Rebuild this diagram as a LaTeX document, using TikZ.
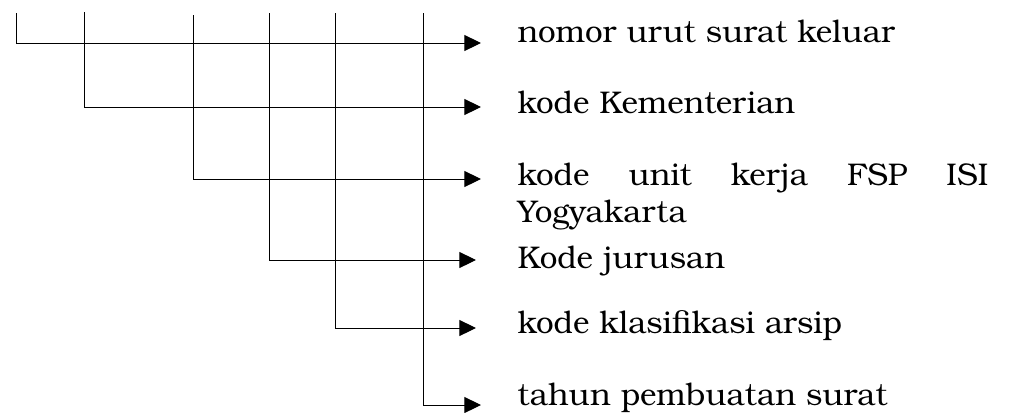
\documentclass[tikz,border=0pt]{standalone}
\usepackage{fontspec}
\setmainfont{TeX Gyre Bonum}
\usetikzlibrary{arrows.meta}
\begin{document}
\begin{tikzpicture}[x=0.75pt,y=-0.75pt,line width=0.75pt,
  conn/.style={draw,-{Triangle[length=12.5pt,width=12pt]}},
  lbl/.style={anchor=base west,inner sep=0pt,font=\fontsize{23.5}{28}\selectfont}]
\useasboundingbox (0,0) rectangle (1010,412);
% labels
\node[lbl] (t1) at (517,42) {nomor urut surat keluar};
\node[lbl] (t2) at (517,113) {kode Kementerian};
\node[lbl] (t3) at (517,185) {\makebox[353.25pt][s]{kode unit kerja FSP ISI}};
\node[lbl] (t3b) at (517,222) {Yogyakarta};
\node[lbl] (t4) at (517,268) {Kode jurusan};
\node[lbl] (t5) at (517,333) {kode klasifikasi arsip};
\node[lbl] (t6) at (517,405) {tahun pembuatan surat};
% vertical tops
\coordinate (v1) at (16,13);
\coordinate (v2) at (84,12);
\coordinate (v3) at (193,15);
\coordinate (v4) at (269,13);
\coordinate (v5) at (335,13);
\coordinate (v6) at (423,13);
% arrow ends
\coordinate (a1) at (481,43);
\coordinate (a2) at (481,107);
\coordinate (a3) at (481,179);
\coordinate (a4) at (476,260);
\coordinate (a5) at (476,328);
\coordinate (a6) at (481,405);
% connectors
\draw[conn] (v1) |- (a1);
\draw[conn] (v2) |- (a2);
\draw[conn] (v3) |- (a3);
\draw[conn] (v4) |- (a4);
\draw[conn] (v5) |- (a5);
\draw[conn] (v6) |- (a6);
\end{tikzpicture}
\end{document}
